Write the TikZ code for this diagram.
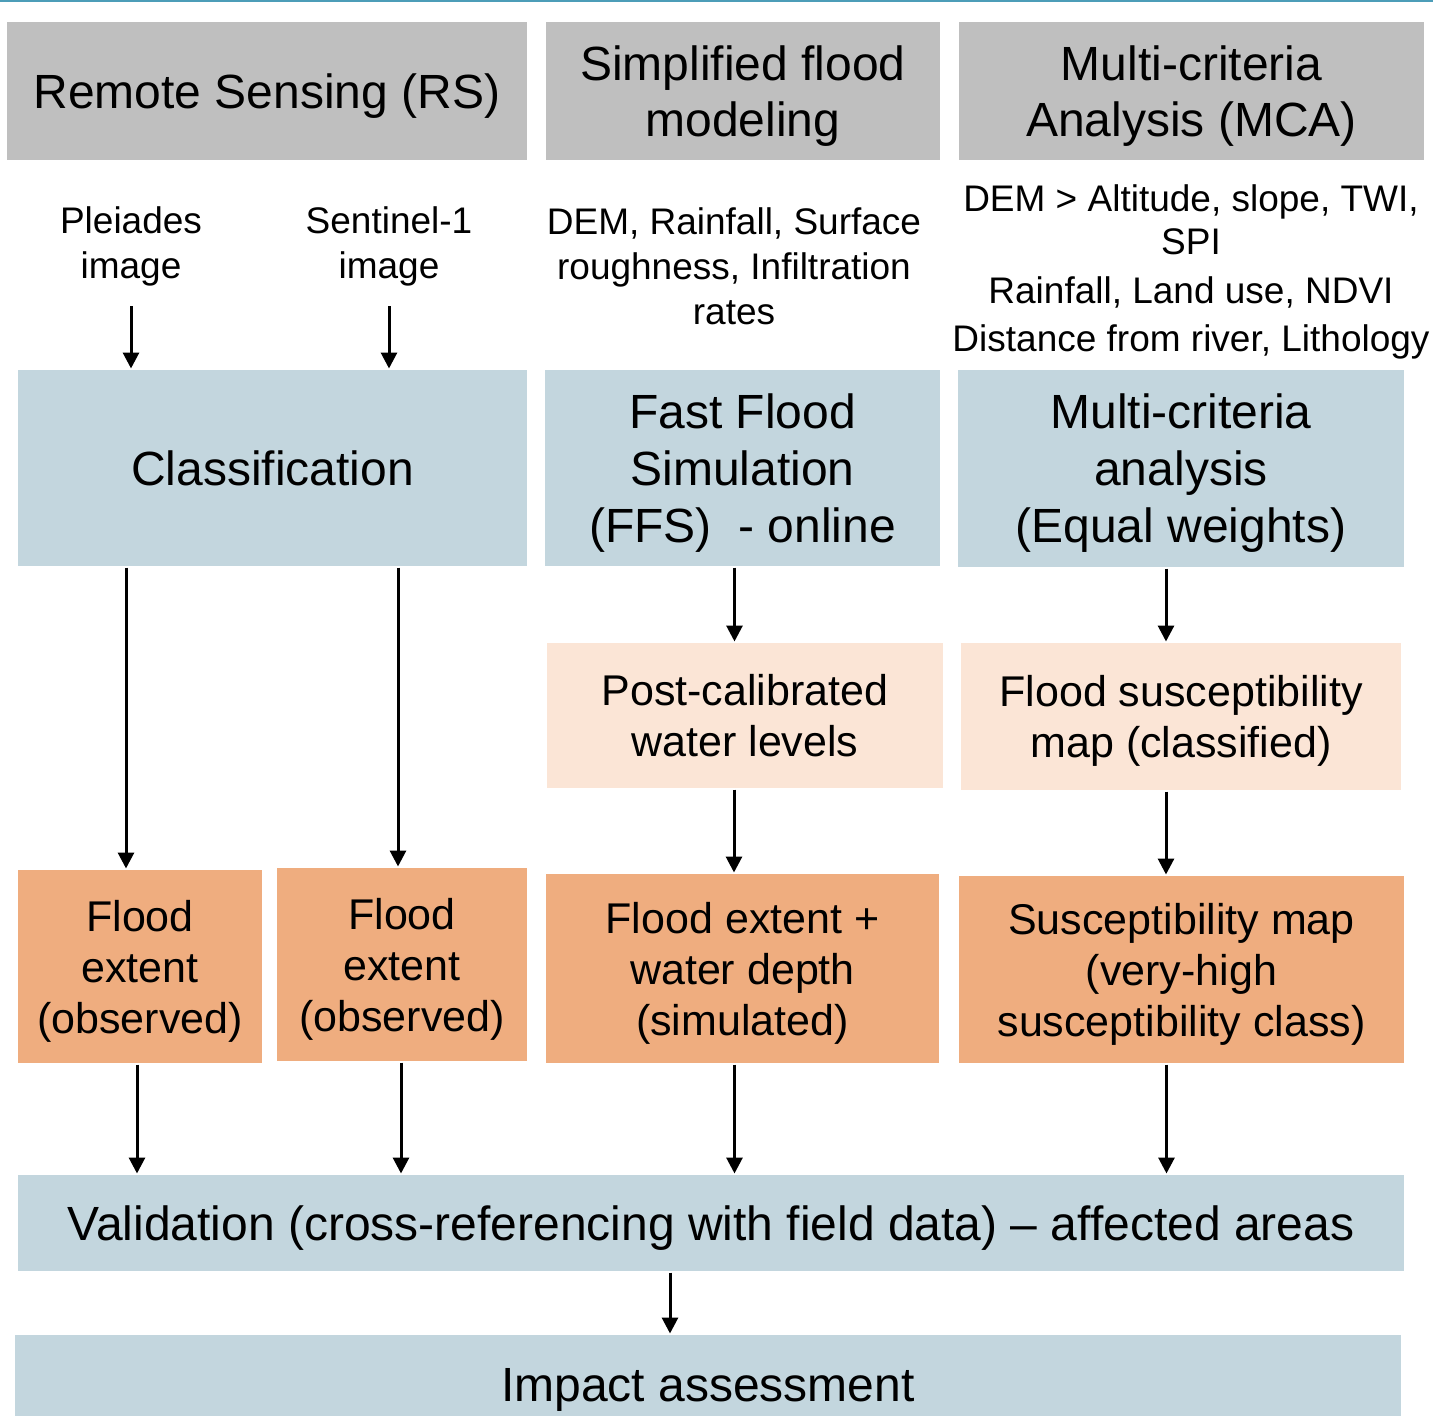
\documentclass[tikz,border=0pt]{standalone}
\usepackage{fontspec}
\setmainfont{Liberation Sans}
\usetikzlibrary{arrows.meta}
\definecolor{hdrgray}{HTML}{BFBFBF}
\definecolor{stepblue}{HTML}{C3D6DE}
\definecolor{steppeach}{HTML}{FBE5D6}
\definecolor{steporange}{HTML}{EFAD7F}
\definecolor{topline}{HTML}{4C9DB8}
\begin{document}
\begin{tikzpicture}[x=1pt,y=-1pt,>={Triangle[width=16pt,length=16pt]},line width=3pt,
	hdr/.style={fill=hdrgray,inner sep=0pt,align=center,text depth=-10pt,font=\fontsize{48}{56}\selectfont},
	bluebox/.style={fill=stepblue,inner sep=0pt,align=center,text depth=-3pt,font=\fontsize{48}{57}\selectfont},
	peachbox/.style={fill=steppeach,inner sep=0pt,align=center,text depth=-8pt,font=\fontsize{43}{51}\selectfont},
	orangebox/.style={fill=steporange,inner sep=0pt,align=center,text depth=-3pt,font=\fontsize{43}{51}\selectfont},
	intext/.style={inner sep=0pt,align=center,font=\fontsize{37}{45}\selectfont}]
	\useasboundingbox (0,0) rectangle (1433,1416);
	\clip (0,0) rectangle (1433,1416);
	\draw[topline,line width=2pt] (0,1) -- (1433,1);
	\node[hdr,minimum width=520pt,minimum height=138pt] (rs) at (267,91) {Remote Sensing (RS)};
	\node[hdr,minimum width=394pt,minimum height=138pt] (sfm) at (743,91) {Simplified flood\\modeling};
	\node[hdr,minimum width=465pt,minimum height=138pt] (mca) at (1191.5,91) {Multi-criteria\\Analysis (MCA)};
	\node[intext] (pl) at (131,246) {Pleiades\\image};
	\node[intext] (s1) at (389,246) {Sentinel-1\\image};
	\node[intext] (dem) at (734,266) {DEM, Rainfall, Surface\\roughness, Infiltration\\rates};
	\node[intext,font=\fontsize{37}{48}\selectfont] (crit) at (1191,271.5) {DEM > Altitude, slope, TWI,\\[-5pt]SPI\\[1pt]Rainfall, Land use, NDVI\\Distance from river, Lithology};
	\node[bluebox,minimum width=509pt,minimum height=196pt] (cls) at (272.5,468) {Classification};
	\node[bluebox,minimum width=395pt,minimum height=196pt] (ffs) at (742.5,468) {Fast Flood\\Simulation\\(FFS)~ - online};
	\node[bluebox,minimum width=446pt,minimum height=197pt] (mcaw) at (1181,468.5) {Multi-criteria\\analysis\\(Equal weights)};
	\node[peachbox,text depth=-13pt,minimum width=396pt,minimum height=145pt] (pcw) at (745,715.5) {Post-calibrated\\water levels};
	\node[peachbox,minimum width=440pt,minimum height=147pt] (fsm) at (1181,716.5) {Flood susceptibility\\map (classified)};
	\node[orangebox,minimum width=244pt,minimum height=193pt] (fe1) at (140,966.5) {Flood\\extent\\(observed)};
	\node[orangebox,minimum width=250pt,minimum height=193pt] (fe2) at (402,964.5) {Flood\\extent\\(observed)};
	\node[orangebox,minimum width=393pt,minimum height=189pt] (fwd) at (742.5,968.5) {Flood extent +\\water depth\\(simulated)};
	\node[orangebox,minimum width=445pt,minimum height=187pt] (vhs) at (1181.5,969.5) {Susceptibility map\\(very-high\\susceptibility class)};
	\node[bluebox,minimum width=1386pt,minimum height=96pt] (val) at (711,1223) {Validation (cross-referencing with field data) – affected areas};
	\node[bluebox,text depth=-1pt,minimum width=1386pt,minimum height=100pt] (imp) at (708,1385) {Impact assessment};
	\draw[->] ([yshift=-19pt]pl.south) -- (pl.south |- cls.north);
	\draw[->] ([yshift=-19pt]s1.south) -- (s1.south |- cls.north);
	\draw[->] ([xshift=-14pt]fe1.north |- cls.south) -- ([xshift=-14pt]fe1.north);
	\draw[->] ([xshift=-4pt]fe2.north |- cls.south) -- ([xshift=-4pt]fe2.north);
	\draw[->] ([xshift=-8pt]ffs.south) -- ([xshift=-8pt]ffs.south |- pcw.north);
	\draw[->] ([xshift=-15pt]mcaw.south) -- ([xshift=-15pt]mcaw.south |- fsm.north);
	\draw[->] ([xshift=-11pt]pcw.south) -- ([xshift=-11pt]pcw.south |- fwd.north);
	\draw[->] ([xshift=-15pt]fsm.south) -- ([xshift=-15pt]fsm.south |- vhs.north);
	\draw[->] ([xshift=-3pt]fe1.south) -- ([xshift=-3pt]fe1.south |- val.north);
	\draw[->] ([xshift=-1pt]fe2.south) -- ([xshift=-1pt]fe2.south |- val.north);
	\draw[->] ([xshift=-8pt]fwd.south) -- ([xshift=-8pt]fwd.south |- val.north);
	\draw[->] ([xshift=-15pt]vhs.south) -- ([xshift=-15pt]vhs.south |- val.north);
	\draw[->] ([xshift=-41pt]val.south) -- ([xshift=-41pt]val.south |- imp.north);
\end{tikzpicture}
\end{document}
